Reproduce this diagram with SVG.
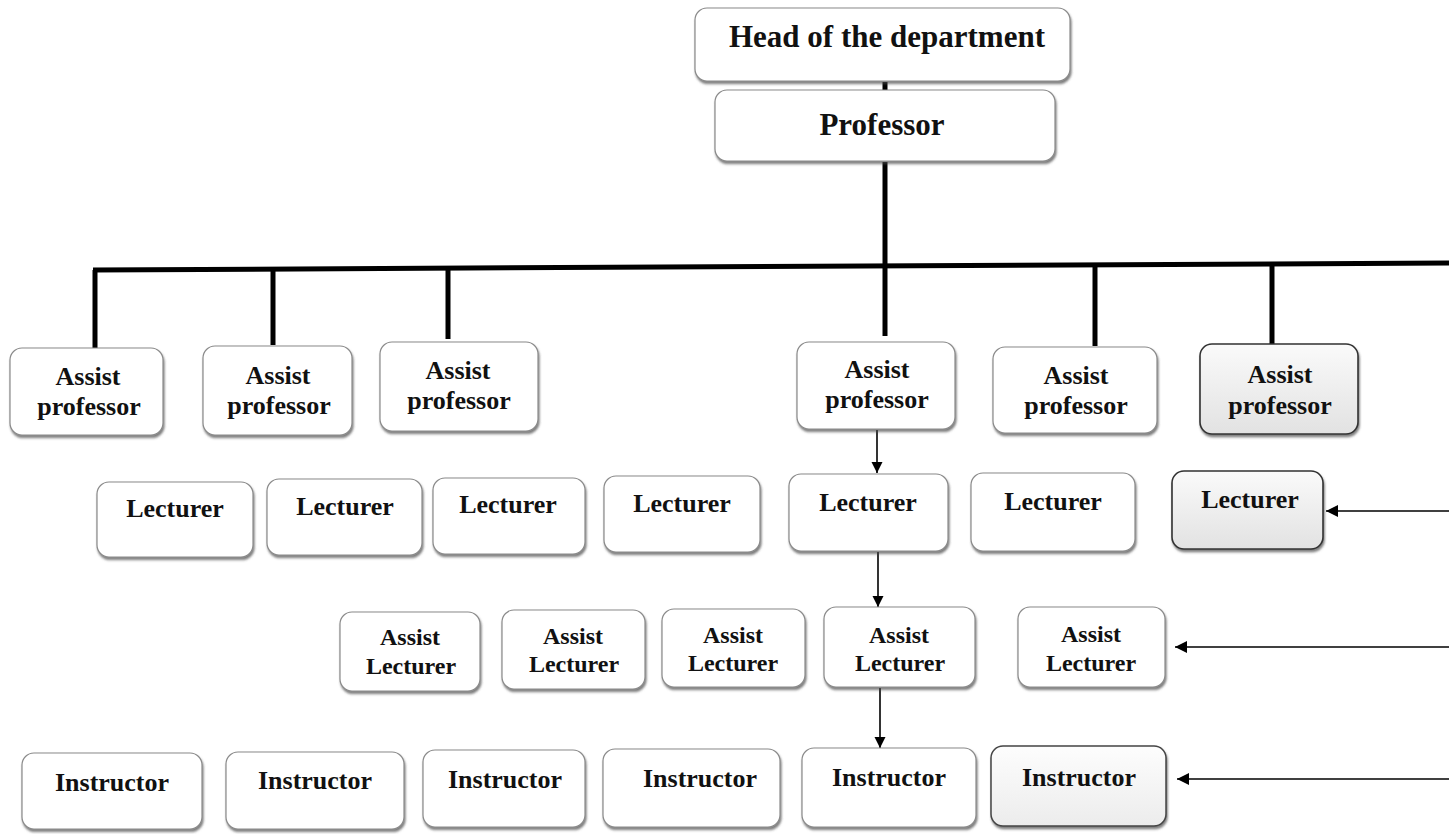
<svg xmlns="http://www.w3.org/2000/svg" width="1449" height="834" viewBox="0 0 1449 834">
<style>
.b{fill:#fff;stroke:#8a8a8a;stroke-width:1.2}
.g{fill:url(#gr);stroke:#333;stroke-width:1.6}
.gl{fill:url(#gr2);stroke:#444;stroke-width:1.5}
.t{font-family:"Liberation Serif","Times New Roman",serif;font-weight:bold;fill:#111;text-anchor:middle}
.n{font-size:26px}
.s{font-size:24px}
.h{font-size:31px}
.thick{stroke:#000;stroke-width:5;fill:none}
.arr{stroke:#000;stroke-width:1.6;fill:none;marker-end:url(#ah)}
</style>
<defs>
<filter id="sh" x="-10%" y="-10%" width="120%" height="130%"><feDropShadow dx="1" dy="2.5" stdDeviation="1" flood-color="#444" flood-opacity="0.7"/></filter>
<linearGradient id="gr" x1="0" y1="0" x2="0" y2="1"><stop offset="0" stop-color="#fafafa"/><stop offset="1" stop-color="#e2e2e2"/></linearGradient>
<linearGradient id="gr2" x1="0" y1="0" x2="0" y2="1"><stop offset="0" stop-color="#fdfdfd"/><stop offset="1" stop-color="#ececec"/></linearGradient>
<marker id="ah" viewBox="0 0 10 10" refX="10" refY="5" markerWidth="11" markerHeight="13" markerUnits="userSpaceOnUse" orient="auto"><path d="M0,0 L10,5 L0,10 z" fill="#000"/></marker>
<marker id="ah2" viewBox="0 0 10 10" refX="10" refY="5" markerWidth="14" markerHeight="12" markerUnits="userSpaceOnUse" orient="auto"><path d="M0,0 L10,5 L0,10 z" fill="#000"/></marker>
</defs>
<g id="connectors">
<line class="thick" x1="885" y1="82" x2="885" y2="91" stroke-width="4"/>
<line class="thick" x1="885" y1="162" x2="885" y2="268"/>
<line class="thick" x1="93" y1="270" x2="1449" y2="263"/>
<line class="thick" x1="95" y1="270" x2="95" y2="348"/>
<line class="thick" x1="273" y1="270" x2="273" y2="345"/>
<line class="thick" x1="448" y1="269" x2="448" y2="339"/>
<line class="thick" x1="885" y1="266" x2="885" y2="336"/>
<line class="thick" x1="1095" y1="266" x2="1095" y2="346"/>
<line class="thick" x1="1272" y1="265" x2="1272" y2="344"/>
<line class="arr" x1="877" y1="430" x2="877" y2="473"/>
<line class="arr" x1="878" y1="552" x2="878" y2="607"/>
<line class="arr" x1="880" y1="688" x2="880" y2="748"/>
<line x1="1449" y1="511" x2="1326" y2="511" stroke="#000" stroke-width="1.6" marker-end="url(#ah2)"/>
<line x1="1449" y1="647" x2="1175" y2="647" stroke="#000" stroke-width="1.6" marker-end="url(#ah2)"/>
<line x1="1449" y1="779" x2="1177" y2="779" stroke="#000" stroke-width="1.6" marker-end="url(#ah2)"/>
</g>
<g id="head"><rect class="b" filter="url(#sh)" x="695" y="8" width="375" height="73" rx="12"/><text class="t h" x="887" y="47">Head of the department</text></g>
<g id="professor"><rect class="b" filter="url(#sh)" x="715" y="90" width="340" height="71" rx="12"/><text class="t h" x="882" y="135">Professor</text></g>

<g id="ap1"><rect class="b" filter="url(#sh)" x="10" y="348" width="153" height="87" rx="12"/><text class="t n" x="88" y="385">Assist</text><text class="t n" x="89" y="415">professor</text></g>
<g id="ap2"><rect class="b" filter="url(#sh)" x="203" y="346" width="149" height="89" rx="12"/><text class="t n" x="278" y="384">Assist</text><text class="t n" x="279" y="414">professor</text></g>
<g id="ap3"><rect class="b" filter="url(#sh)" x="380" y="342" width="158" height="89" rx="12"/><text class="t n" x="458" y="379">Assist</text><text class="t n" x="459" y="409">professor</text></g>
<g id="ap4"><rect class="b" filter="url(#sh)" x="797" y="342" width="158" height="87" rx="12"/><text class="t n" x="877" y="378">Assist</text><text class="t n" x="877" y="408">professor</text></g>
<g id="ap5"><rect class="b" filter="url(#sh)" x="993" y="347" width="164" height="86" rx="12" stroke="#555"/><text class="t n" x="1076" y="384">Assist</text><text class="t n" x="1076" y="414">professor</text></g>
<g id="ap6"><rect class="g" filter="url(#sh)" x="1200" y="344" width="158" height="90" rx="12"/><text class="t n" x="1280" y="383">Assist</text><text class="t n" x="1280" y="414">professor</text></g>

<g id="l1"><rect class="b" filter="url(#sh)" x="97" y="482" width="156" height="75" rx="12"/><text class="t n" x="175" y="517">Lecturer</text></g>
<g id="l2"><rect class="b" filter="url(#sh)" x="267" y="479" width="155" height="76" rx="12"/><text class="t n" x="345" y="515">Lecturer</text></g>
<g id="l3"><rect class="b" filter="url(#sh)" x="433" y="478" width="152" height="76" rx="12"/><text class="t n" x="508" y="513">Lecturer</text></g>
<g id="l4"><rect class="b" filter="url(#sh)" x="604" y="476" width="156" height="76" rx="12"/><text class="t n" x="682" y="512">Lecturer</text></g>
<g id="l5"><rect class="b" filter="url(#sh)" x="789" y="474" width="159" height="77" rx="12"/><text class="t n" x="868" y="511">Lecturer</text></g>
<g id="l6"><rect class="b" filter="url(#sh)" x="971" y="473" width="164" height="78" rx="12" stroke="#444"/><text class="t n" x="1053" y="510">Lecturer</text></g>
<g id="l7"><rect class="g" filter="url(#sh)" x="1172" y="471" width="151" height="78" rx="12"/><text class="t n" x="1250" y="508">Lecturer</text></g>

<g id="al1"><rect class="b" filter="url(#sh)" x="340" y="612" width="140" height="79" rx="12"/><text class="t s" x="410" y="645">Assist</text><text class="t s" x="411" y="674">Lecturer</text></g>
<g id="al2"><rect class="b" filter="url(#sh)" x="502" y="610" width="143" height="79" rx="12"/><text class="t s" x="573" y="644">Assist</text><text class="t s" x="574" y="672">Lecturer</text></g>
<g id="al3"><rect class="b" filter="url(#sh)" x="662" y="609" width="143" height="78" rx="12"/><text class="t s" x="733" y="643">Assist</text><text class="t s" x="733" y="671">Lecturer</text></g>
<g id="al4"><rect class="b" filter="url(#sh)" x="824" y="607" width="151" height="80" rx="12"/><text class="t s" x="899" y="643">Assist</text><text class="t s" x="900" y="671">Lecturer</text></g>
<g id="al5"><rect class="b" filter="url(#sh)" x="1018" y="607" width="147" height="80" rx="12" stroke="#333" stroke-width="1.5"/><text class="t s" x="1091" y="642">Assist</text><text class="t s" x="1091" y="671">Lecturer</text></g>

<g id="i1"><rect class="b" filter="url(#sh)" x="22" y="753" width="180" height="76" rx="12"/><text class="t n" x="112" y="791">Instructor</text></g>
<g id="i2"><rect class="b" filter="url(#sh)" x="226" y="752" width="178" height="77" rx="12"/><text class="t n" x="315" y="789">Instructor</text></g>
<g id="i3"><rect class="b" filter="url(#sh)" x="423" y="750" width="162" height="77" rx="12"/><text class="t n" x="505" y="788">Instructor</text></g>
<g id="i4"><rect class="b" filter="url(#sh)" x="603" y="749" width="177" height="78" rx="12"/><text class="t n" x="700" y="787">Instructor</text></g>
<g id="i5"><rect class="b" filter="url(#sh)" x="802" y="748" width="174" height="79" rx="12"/><text class="t n" x="889" y="786">Instructor</text></g>
<g id="i6"><rect class="gl" filter="url(#sh)" x="991" y="746" width="175" height="80" rx="12"/><text class="t n" x="1079" y="786">Instructor</text></g>
</svg>
